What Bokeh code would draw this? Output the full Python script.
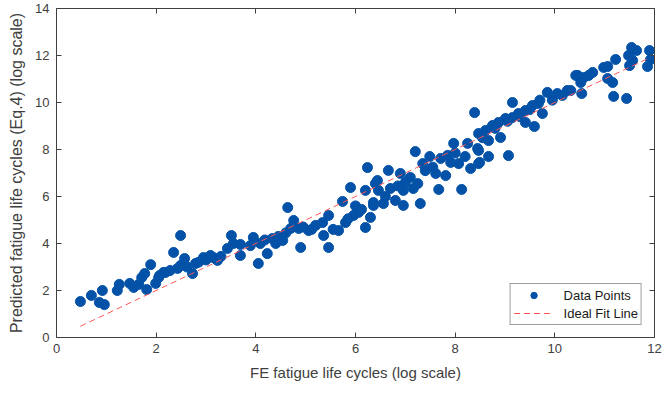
from bokeh.plotting import figure
from bokeh.models import Range1d, FixedTicker, LinearAxis, Legend, LegendItem
from bokeh.embed import file_html
from bokeh.resources import INLINE

# FE fatigue life (log scale) vs predicted (Eq.4, log scale)
fe_life = [
    0.48, 0.70, 0.92, 0.86, 0.96, 1.22, 1.26, 1.47, 1.55, 1.65, 1.71, 1.77, 1.89, 1.81, 1.99, 2.07, 2.15,
    2.49, 2.35, 2.57, 2.19, 2.43, 2.49, 2.73, 2.79, 2.95, 3.09, 3.23, 3.43, 3.51, 3.55, 3.69, 3.69, 3.95,
    3.89, 4.05, 4.09, 4.23, 3.15, 3.30, 2.62, 2.85, 3.00, 4.18, 2.28, 2.05,
    6.24, 5.90, 4.64, 5.74, 6.20, 4.76, 5.46, 5.34, 4.70, 4.86, 5.06, 5.20, 4.33, 4.54, 4.90, 5.46, 5.66,
    5.80, 5.96, 6.06, 6.20, 6.30, 6.36, 6.40, 5.36, 4.45, 4.60, 4.95, 5.12, 5.55, 5.85, 6.00, 6.12, 4.40,
    8.39, 7.20, 7.97, 8.25, 8.45, 7.49, 7.71, 7.91, 8.07, 7.35, 6.66, 6.90, 7.10, 7.61, 7.81, 8.31, 8.47,
    6.44, 6.46, 6.70, 6.96, 7.16, 7.67, 8.13, 6.36, 6.56, 6.80, 6.96, 7.30, 7.00, 7.40, 7.55, 7.85, 8.00,
    6.60, 6.85, 7.25, 8.20,
    10.42, 9.85, 10.05, 10.25, 9.15, 9.67, 9.55, 9.41, 9.27, 9.15, 9.01, 8.87, 8.75, 8.61, 8.47, 9.75,
    9.41, 9.59, 8.91, 8.67, 8.47, 8.67, 9.07, 8.49, 9.30, 9.50, 9.95, 10.15, 8.80, 9.05, 9.70, 8.55,
    11.54, 11.64, 11.90, 11.48, 11.92, 11.56, 11.22, 11.50, 11.86, 10.98, 11.06, 10.76, 10.68, 10.46,
    10.58, 10.52, 11.06, 11.16, 10.32, 10.54, 11.18, 11.44,
]
predicted = [
    1.53, 1.79, 2.00, 1.49, 1.40, 2.00, 2.26, 2.30, 2.13, 2.26, 2.55, 2.72, 3.10, 2.04, 2.30, 2.64, 2.77,
    4.34, 3.62, 3.36, 2.77, 2.94, 3.06, 2.72, 3.15, 3.40, 3.49, 3.28, 3.79, 4.34, 4.00, 3.96, 3.49, 4.26,
    3.91, 3.15, 4.00, 3.57, 3.40, 3.45, 3.00, 3.20, 3.30, 4.15, 2.85, 2.55,
    7.23, 6.38, 5.53, 5.79, 6.26, 4.98, 5.19, 4.89, 4.64, 4.64, 4.55, 4.77, 4.21, 4.13, 3.83, 3.83, 4.55,
    4.89, 5.19, 5.32, 4.68, 5.11, 5.62, 6.55, 4.34, 4.30, 4.45, 4.70, 4.60, 4.60, 5.05, 5.60, 5.45, 4.00,
    9.57, 7.91, 8.26, 8.26, 8.04, 7.70, 7.62, 7.45, 7.40, 7.40, 7.11, 6.98, 6.81, 6.98, 6.89, 7.19, 7.40,
    6.68, 6.26, 6.34, 6.26, 6.34, 6.30, 6.30, 5.74, 5.70, 5.83, 5.62, 5.70, 6.60, 7.10, 7.25, 7.75, 7.85,
    6.00, 6.45, 6.55, 7.70,
    11.15, 10.43, 10.38, 10.51, 10.00, 9.96, 9.87, 9.66, 9.53, 9.36, 9.32, 9.15, 9.02, 8.81, 8.68, 9.53,
    9.15, 8.98, 8.51, 8.38, 7.96, 7.70, 7.74, 7.45, 9.40, 9.70, 10.10, 10.30, 8.90, 9.20, 10.10, 8.50,
    12.34, 12.21, 12.21, 12.00, 11.83, 11.79, 11.83, 11.57, 11.53, 11.49, 11.53, 11.28, 11.15, 11.15,
    11.06, 10.85, 11.02, 10.85, 10.51, 10.38, 10.26, 10.17,
]
fit_x = [min(fe_life), max(fe_life)]
fit_y = fit_x  # ideal fit y = x

x_ticks = [0, 2, 4, 6, 8, 10, 12]
y_ticks = [0, 2, 4, 6, 8, 10, 12, 14]

AX = "#404040"
FONT = "Liberation Sans"

p = figure(width=662, height=393, output_backend="svg", toolbar_location=None,
           x_range=Range1d(0, 12), y_range=Range1d(0, 14),
           min_border_left=56, min_border_right=8, min_border_top=8, min_border_bottom=56)
p.grid.visible = False
p.outline_line_color = AX
p.outline_line_width = 1
p.background_fill_color = "white"
p.border_fill_color = "white"

pts = p.scatter(fe_life, predicted, size=10, marker="circle",
                fill_color="#0352A8", line_color="#0352A8")
fit = p.line(fit_x, fit_y, line_color="#FF5555", line_width=1, line_dash="6 4")

for ax, ticks in ((p.xaxis[0], x_ticks), (p.yaxis[0], y_ticks)):
    ax.ticker = FixedTicker(ticks=ticks)
    ax.major_tick_in = 5
    ax.major_tick_out = 0
    ax.minor_tick_line_color = None
    ax.axis_line_color = AX
    ax.major_tick_line_color = AX
    ax.major_label_text_font = FONT
    ax.major_label_text_font_size = "13px"
    ax.major_label_text_color = AX
    ax.axis_label_text_font = FONT
    ax.axis_label_text_font_style = "normal"
    ax.axis_label_text_color = AX

p.xaxis[0].axis_label = "FE fatigue life cycles (log scale)"
p.yaxis[0].axis_label = "Predicted fatigue life cycles (Eq.4) (log scale)"
p.xaxis[0].axis_label_text_font_size = "15px"
p.yaxis[0].axis_label_text_font_size = "16px"
p.xaxis[0].major_label_standoff = 6
p.xaxis[0].axis_label_standoff = 8
p.yaxis[0].major_label_standoff = 7
p.yaxis[0].axis_label_standoff = 7

top = LinearAxis(ticker=FixedTicker(ticks=x_ticks))
right = LinearAxis(ticker=FixedTicker(ticks=y_ticks))
for ax in (top, right):
    ax.major_tick_in = 5
    ax.major_tick_out = 0
    ax.minor_tick_line_color = None
    ax.axis_line_color = AX
    ax.major_tick_line_color = AX
    ax.major_label_text_font_size = "0px"
    ax.major_label_text_color = None
    ax.major_label_standoff = 0
p.add_layout(top, "above")
p.add_layout(right, "right")

legend = Legend(items=[LegendItem(label="Data Points", renderers=[pts]),
                       LegendItem(label="Ideal Fit Line", renderers=[fit])],
                location="bottom_right", margin=12, padding=3, spacing=2,
                glyph_width=40, glyph_height=16, label_standoff=10,
                label_text_font=FONT, label_text_font_size="13px", label_text_color="#1a1a1a",
                border_line_color=AX, border_line_width=1,
                background_fill_color="white", background_fill_alpha=1)
p.add_layout(legend, "center")

open("out.html", "w").write(file_html(p, INLINE))
